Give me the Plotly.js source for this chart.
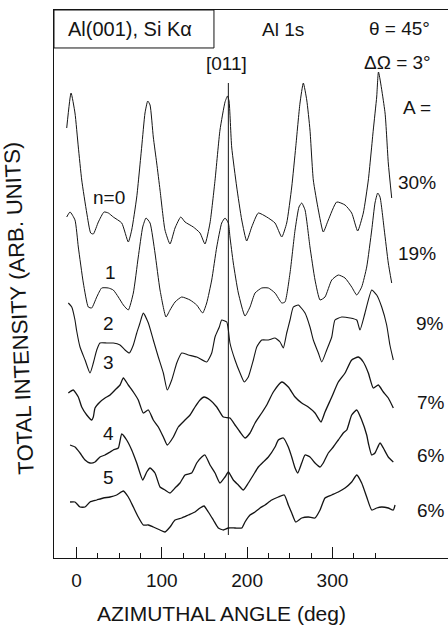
<!DOCTYPE html>
<html>
<head>
<meta charset="utf-8">
<script src="https://cdn.plot.ly/plotly-3.0.1.min.js"></script>
<style>html,body{margin:0;padding:0;background:#fff;}#chart{width:448px;height:625px;}</style>
</head>
<body>
<div id="chart"></div>
<script>
// Azimuthal angle (deg) and total intensity (arb. units, curves stacked as drawn)
const ang0 = [-11.5,-6.4,-1.8,2.1,6.1,12.0,16.6,19.7,25.6,32.2,37.3,43.1,53.0,60.7,64.7,70.6,76.4,80.3,83.5,86.2,90.0,94.0,97.9,103.7,109.6,115.5,122.2,127.2,136.9,144.8,150.6,156.5,162.4,168.2,174.1,177.0,178.8,181.9,187.8,193.7,199.5,205.4,213.1,223.0,232.7,240.6,246.4,252.3,257.0,262.0,265.9,269.9,273.7,277.6,283.5,289.3,295.2,305.0,314.8,322.6,329.6,336.2,342.1,347.9,351.9,354.0,361.7,365.5,369.5];
const int0 = [430,465,445,411,378,345,325,324,336,346,345,341,335,316,328,361,411,445,457,453,421,395,368,328,314,330,341,336,331,325,314,335,378,428,456,462,457,411,371,338,317,331,345,341,335,321,335,371,411,455,475,458,428,378,348,326,338,356,353,345,327,345,378,428,461,486,445,395,360];

const ang1 = [-11.5,-7.6,-1.8,2.1,8.0,13.8,17.8,23.7,29.5,37.3,43.1,49.0,54.9,60.7,66.6,72.4,77.6,81.5,86.2,92.0,97.9,104.9,109.6,115.5,123.3,133.1,140.9,147.9,152.6,158.5,164.4,170.2,174.1,178.0,179.9,183.8,189.7,197.5,203.4,209.3,217.1,224.9,232.7,240.6,244.4,250.3,256.2,260.8,264.0,267.9,273.7,279.6,285.5,291.3,299.2,306.9,314.8,322.6,328.5,334.3,340.2,346.1,349.9,353.1,355.8,360.8,365.5,369.5];
const int1 = [341,346,338,311,275,251,250,261,270,270,268,261,253,248,265,301,331,340,335,305,268,241,248,256,261,258,253,245,255,278,311,335,340,335,321,295,265,242,251,265,270,270,265,255,256,285,328,351,355,348,311,278,258,261,278,283,280,271,263,271,291,328,355,365,361,328,295,275];

const ang2 = [-9.6,-5.6,-1.8,0,4.1,10.0,15.8,19.7,23.7,27.5,35.4,43.1,51.0,56.9,61.9,66.6,70.6,74.4,76.4,78.3,84.2,90.0,95.9,101.8,106.4,111.6,117.5,123.3,131.1,140.9,152.6,158.5,162.4,167.4,170.2,176.1,178.0,179.9,185.8,191.7,196.7,201.4,207.3,211.3,217.1,224.9,232.7,238.6,242.4,246.4,250.3,254.2,260.0,267.9,273.7,277.6,283.5,287.5,293.3,299.2,303.0,310.9,320.6,328.5,332.3,338.2,346.1,351.9,357.8,363.6,367.4,371.4];
const int2 = [255,251,238,228,211,198,185,195,208,215,215,215,213,208,205,213,225,235,241,245,235,218,201,185,168,178,195,205,203,201,196,205,221,231,238,236,228,215,198,185,176,181,198,211,218,218,220,216,210,225,238,251,253,245,231,218,205,196,208,221,238,241,240,238,228,245,268,263,251,233,213,198];

const ang3 = [-9.6,-3.8,2.1,6.1,12.0,17.8,19.7,21.7,27.5,33.4,39.3,45.1,51.0,54.9,60.7,66.6,72.4,78.3,84.2,90.0,95.9,101.8,106.4,113.5,119.3,127.2,133.1,138.9,144.8,149.5,156.5,164.4,172.1,179.9,185.8,191.7,197.5,203.4,209.3,217.1,223.0,230.7,240.6,248.3,256.2,264.0,271.7,279.6,286.6,291.3,299.2,306.9,314.8,322.6,330.4,336.2,342.1,347.9,353.8,359.7,365.5,371.4];
const int3 = [165,168,161,151,143,138,141,150,156,160,163,168,173,180,173,166,158,145,148,138,131,121,113,121,131,138,143,151,158,161,158,151,141,140,133,126,120,125,135,145,153,166,176,171,161,155,151,145,136,146,161,176,185,198,201,196,185,170,173,166,160,150];

const ang4 = [-7.6,-1.8,4.1,10.0,15.8,21.7,27.5,33.4,39.3,43.1,49.0,53.0,58.8,64.7,70.6,77.6,82.3,86.2,92.0,97.9,103.7,109.6,115.5,121.3,127.2,135.0,140.9,146.8,150.6,156.5,162.4,168.2,174.1,178.0,183.8,189.7,195.5,201.4,207.3,213.1,219.0,224.9,232.7,236.6,242.4,248.3,252.3,256.2,259.3,264.0,267.9,273.7,279.6,285.5,289.3,295.2,301.0,306.9,312.8,316.8,322.6,328.5,334.3,340.2,342.1,346.1,349.9,355.8,359.7,365.5,371.4];
const int4 = [113,111,105,98,95,96,101,103,106,108,110,124,118,108,95,78,86,90,85,71,68,65,70,75,83,85,95,101,103,93,85,75,81,86,78,73,68,75,83,91,96,101,111,118,120,111,101,90,85,95,103,101,95,91,95,105,111,118,125,128,143,148,138,123,115,103,105,115,110,101,96];

const ang5 = [-7.6,-1.8,4.1,10.0,15.8,23.7,31.4,39.3,47.1,54.9,60.7,66.6,72.4,78.3,84.2,90.0,97.9,103.7,109.6,115.5,123.3,131.1,138.9,144.8,149.5,154.5,160.4,166.2,172.1,178.0,185.8,193.7,197.5,203.4,209.3,215.1,221.0,228.8,236.6,243.6,248.3,252.3,257.0,264.0,271.7,279.6,285.5,291.3,299.2,306.9,314.8,322.6,328.5,334.3,340.2,346.1,351.9,357.8,365.5,371.4,373.4];
const int5 = [56,56,51,51,56,58,60,61,63,67,61,51,41,33,33,31,28,26,31,38,40,43,46,50,52,46,38,30,28,30,30,30,36,43,46,50,53,58,61,63,53,45,36,40,41,40,48,60,63,66,70,76,83,75,61,48,50,51,50,48,53];

const curveLabels = ["n=0","1","2","3","4","5"];
const amplitudes = ["30%","19%","9%","7%","6%","6%"];
const xTicks = [0,100,200,300];
const xMinorTicks = [25,50,75,125,150,175,225,250,275,325,350];
const dirAngle = 178;

const FONT = "Liberation Sans, Arial, sans-serif";
const INK = "#141414";

const series = [[ang0,int0],[ang1,int1],[ang2,int2],[ang3,int3],[ang4,int4],[ang5,int5]];
const widths = [1.0,1.0,1.1,1.3,1.3,1.3];
const traces = series.map(function(s,i){
  return {x:s[0], y:s[1], type:"scatter", mode:"lines",
          line:{color:INK, width:widths[i], shape:"spline", smoothing:0.5}, hoverinfo:"skip"};
});

// label positions
const labelPos = [[38,361],[39.3,286],[37,235],[37,196],[37,125],[38,81]];
const ampPos = [[399,376],[399,305],[414.5,235],[415.5,156],[415.5,103],[415.5,48]];

const ann = [];
curveLabels.forEach(function(t,i){
  ann.push({x:labelPos[i][0], y:labelPos[i][1], xref:"x", yref:"y", text:t, showarrow:false,
            font:{family:FONT,size:19,color:INK}});
});
amplitudes.forEach(function(t,i){
  ann.push({x:ampPos[i][0], y:ampPos[i][1], xref:"x", yref:"y", text:t, showarrow:false,
            font:{family:FONT,size:19,color:INK}});
});
ann.push({x:399, y:451, xref:"x", yref:"y", text:"A =", showarrow:false, font:{family:FONT,size:19,color:INK}});
ann.push({x:62.8, y:529, xref:"x", yref:"y", text:"Al(001), Si K\u03b1", showarrow:false, font:{family:FONT,size:20,color:INK}});
ann.push({x:242, y:529, xref:"x", yref:"y", text:"Al 1s", showarrow:false, font:{family:FONT,size:19,color:INK}});
ann.push({x:379, y:530, xref:"x", yref:"y", text:"\u03b8 = 45\u00b0", showarrow:false, font:{family:FONT,size:19,color:INK}});
ann.push({x:376, y:496, xref:"x", yref:"y", text:"\u0394\u03a9 = 3\u00b0", showarrow:false, font:{family:FONT,size:19,color:INK}});
ann.push({x:176.4, y:495, xref:"x", yref:"y", text:"[011]", showarrow:false, font:{family:FONT,size:19,color:INK}});
ann.push({x:0.426, y:-0.1004, xref:"paper", yref:"paper", text:"AZIMUTHAL ANGLE (deg)", showarrow:false,
          xanchor:"center", yanchor:"middle", font:{family:FONT,size:21,color:INK}});
ann.push({x:-0.09, y:0.456, xref:"paper", yref:"paper", text:"TOTAL INTENSITY (ARB. UNITS)", showarrow:false,
          xanchor:"center", yanchor:"middle", textangle:-92.5, font:{family:FONT,size:22,color:INK}});

const layout = {
  width:448, height:625,
  margin:{l:54, r:0, t:10, b:67},
  paper_bgcolor:"#fff", plot_bgcolor:"#fff",
  showlegend:false,
  xaxis:{range:[-26.4,435.5], showline:true, linecolor:INK, linewidth:1, mirror:true,
         ticks:"inside", ticklen:11, tickwidth:1, tickcolor:INK,
         tickvals:xTicks, ticktext:xTicks.map(String),
         tickfont:{family:FONT,size:19,color:INK}, ticklabelstandoff:5,
         minor:{tickvals:xMinorTicks, ticks:"inside", ticklen:5, tickwidth:1, tickcolor:INK, showgrid:false},
         showgrid:false, zeroline:false, fixedrange:true},
  yaxis:{range:[0,548], showline:true, linecolor:INK, linewidth:1, mirror:false,
         showticklabels:false, ticks:"", showgrid:false, zeroline:false, fixedrange:true},
  shapes:[
    {type:"line", xref:"x", yref:"y", x0:dirAngle, x1:dirAngle, y0:23, y1:475, line:{color:INK,width:1}},
    {type:"rect", xref:"paper", yref:"paper", x0:0, x1:0.406, y0:0.9307, y1:1, line:{color:INK,width:1}}
  ],
  annotations:ann
};

Plotly.newPlot("chart", traces, layout, {displayModeBar:false, staticPlot:true});
</script>
</body>
</html>
